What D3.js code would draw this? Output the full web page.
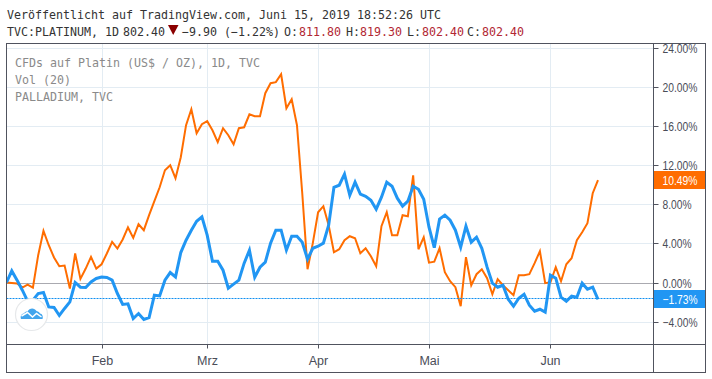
<!DOCTYPE html>
<html><head><meta charset="utf-8">
<script src="https://cdn.jsdelivr.net/npm/d3@7"></script>
<style>html,body{margin:0;padding:0;background:#fff}svg{display:block}
.mono{font-family:"DejaVu Sans Mono",monospace;font-size:11.63px}
.ax{font-family:"Liberation Sans",Arial,sans-serif;font-size:12.5px;fill:#4a4d58}</style>
</head><body><svg id="c" width="712" height="379"></svg>
<script>
const platinum=[0,-0.04,-0.10,-0.52,-0.21,-0.52,2.80,5.29,3.82,2.56,1.67,1.74,-0.62,2.97,0.37,1.43,2.62,1.43,1.87,2.97,4.16,3.48,4.41,5.64,4.57,5.97,5.36,6.90,8.33,9.76,11.51,12.02,10.69,12.84,16.12,17.76,15.30,16.22,16.53,15.60,14.38,15.81,15.09,14.17,15.81,15.91,17.24,17.04,17.04,19.40,20.42,20.53,21.34,17.86,18.78,16.12,9.15,1.36,4.03,7.20,7.82,5.87,3.10,3.41,4.33,4.74,4.54,3.00,3.51,2.69,1.67,5.77,7.20,4.85,4.85,6.90,6.79,10.99,3.41,4.64,2.03,2.13,3.51,1.06,0.13,-0.48,-2.43,2.59,-0.28,0.85,1.36,0.44,-1.20,0.34,-0.28,-0.79,-1.30,0.75,0.75,0.85,1.98,3.21,-0.07,0.03,1.57,0.13,1.87,2.49,4.33,5.15,6.08,9.15,10.49];
const palladium=[0,1.19,0.24,-0.79,-1.90,-1.81,-1.13,-1.02,-2.50,-2.56,-3.38,-2.66,-1.99,0,-0.48,-0.52,0.06,0.41,0.57,0.51,0.24,-1.13,-2.25,-2.19,-3.69,-3.18,-3.79,-3.59,-1.30,-1.37,0.24,1.02,0.57,3.07,4.33,5.36,6.28,6.72,4.85,2.18,2.18,1.26,-0.58,-0.17,0.24,1.98,3.31,0.54,1.57,2.08,4.03,5.36,5.36,3.31,4.74,4.74,4.13,2.39,3.51,3.72,4.03,5.87,9.76,9.97,11.10,8.94,10.28,9.05,8.84,8.43,7.51,8.74,10.28,9.87,8.64,7.82,8.33,9.87,9.56,8.53,5.67,3.57,6.49,6.90,6.38,5.36,3.62,5.77,4.13,4.64,3.51,1.57,-0.07,-0.48,-0.28,-1.71,-2.43,-1.61,-1.20,-2.33,-2.94,-2.74,-3.04,0.75,0.44,-1.51,-1.92,-1.40,-1.51,-0.07,-0.69,-0.48,-1.73];
const monthLabels=["Feb","Mrz","Apr","Mai","Jun"];
const monthIndex=[18,38,59,80,103];
const pctTicks=[24,20,16,12,8,4,0,-4];
const headerLine="Veröffentlicht auf TradingView.com, Juni 15, 2019 18:52:26 UTC";
const legendLines=["CFDs auf Platin (US$ / OZ), 1D, TVC","Vol (20)","PALLADIUM, TVC"];
const lastPlatinum=10.49,lastPalladium=-1.73;

const svg=d3.select("#c");
const L=6.5,R=653.5,T=43.5,B=344.5,OR=705.5,OB=372.5;
const x=d3.scaleLinear().domain([0,112]).range([6.5,598]);
const y=d3.scaleLinear().domain([0,24]).range([282.5,48.3]);
const fmt=v=>(v<0?"\u2212":"")+Math.abs(v).toFixed(2)+"%";

svg.append("defs").append("clipPath").attr("id","pl").append("rect").attr("x",L).attr("y",T).attr("width",R-L).attr("height",B-T);
svg.append("defs").append("clipPath").attr("id","ra").append("rect").attr("x",R).attr("y",T+.5).attr("width",OR-R).attr("height",B-T);

const grid=svg.append("g").attr("stroke","#e3ecf3").attr("stroke-width",1);
pctTicks.forEach(t=>{const p=Math.round(y(t))+.5;if(t!==0)grid.append("line").attr("x1",L).attr("x2",R).attr("y1",p).attr("y2",p);});
monthIndex.forEach(i=>{const p=Math.round(x(i))+.5;grid.append("line").attr("x1",p).attr("x2",p).attr("y1",T).attr("y2",B);});

svg.append("line").attr("x1",L).attr("x2",R).attr("y1",Math.round(y(0))+.5).attr("y2",Math.round(y(0))+.5).attr("stroke","#aaaab0");

const plot=svg.append("g").attr("clip-path","url(#pl)");
const line=d3.line().x((d,i)=>x(i)).y(d=>y(d));
plot.append("path").attr("d",line(platinum)).attr("fill","none").attr("stroke","#ff6d00").attr("stroke-width",2).attr("stroke-linejoin","miter");
plot.append("path").attr("d",line(palladium)).attr("fill","none").attr("stroke","#2196f3").attr("stroke-width",3).attr("stroke-linejoin","miter");
const dy=Math.round(y(lastPalladium))-.5;
plot.append("line").attr("x1",L).attr("x2",R).attr("y1",dy).attr("y2",dy).attr("stroke","#0f8ff0").attr("stroke-width",1).attr("stroke-dasharray","2 1");

// logo badge
const logo=svg.append("g").attr("transform","translate(31.5,314.5)");
logo.append("circle").attr("r",16).attr("fill","#fff").attr("stroke","#e6e8ea").attr("stroke-width",1.2);
logo.append("path").attr("d","M-10.5,4.5 C-11.5,1.5 -10,-1 -7.5,-1 C-6.5,-3 -5,-3 -4,-3 C-2,-7 3,-7 5,-3.5 C7,-3 8,-2 8.5,-1 C10.5,-1 12,2 11,4.5 L-10.5,4.5Z").attr("fill","#42a5ed");
logo.append("path").attr("d","M-10,1.5 L-4,-2 L1,2.5 L5,-1 L10,2.5").attr("fill","none").attr("stroke","#fff").attr("stroke-width",1.5);

// frame
const fr=svg.append("g").attr("stroke","#50535e").attr("stroke-width",1).attr("fill","none");
fr.append("rect").attr("x",L).attr("y",T).attr("width",OR-L).attr("height",OB-T);
fr.append("line").attr("x1",L).attr("x2",OR).attr("y1",B).attr("y2",B);
fr.append("line").attr("x1",R).attr("x2",R).attr("y1",T).attr("y2",OB);

// x axis
monthIndex.forEach((i,k)=>{const p=Math.round(x(i))+.5;
 svg.append("line").attr("x1",p).attr("x2",p).attr("y1",B).attr("y2",B+4).attr("stroke","#50535e");
 svg.append("text").attr("class","ax").attr("x",p).attr("y",364.5).attr("text-anchor","middle").text(monthLabels[k]);});

// y axis
const ra=svg.append("g").attr("clip-path","url(#ra)");
pctTicks.forEach(t=>{const p=Math.round(y(t))+.5;
 ra.append("line").attr("x1",R).attr("x2",R+5).attr("y1",p).attr("y2",p).attr("stroke","#50535e");
 ra.append("text").attr("class","ax").attr("x",662.5).attr("y",p+4.5).attr("textLength",t<0?35:(Math.abs(t)>=10?35:29)).attr("lengthAdjust","spacingAndGlyphs").text(fmt(t));});
[[lastPlatinum,"#ff6d00"],[lastPalladium,"#2196f3"]].forEach(([v,c])=>{const p=y(v);
 svg.append("rect").attr("x",R+.5).attr("y",Math.round(p)-9).attr("width",OR-R-1).attr("height",18).attr("fill",c);
 svg.append("text").attr("class","ax").style("fill","#fff").attr("x",662.5).attr("y",Math.round(p)+4.5).attr("textLength",35).attr("lengthAdjust","spacingAndGlyphs").text(fmt(v));});

// header
const hdr=(s,xp,yp,c)=>svg.append("text").attr("class","mono").attr("x",xp).attr("y",yp).attr("fill",c).text(s);
hdr(headerLine,7,19,"#333");
hdr("TVC:PLATINUM, 1D",7,36,"#333");
hdr("802.40",123,36,"#333");
svg.append("path").attr("d","M168,25 L178.5,25 L173.2,35Z").attr("fill","#8b0000");
hdr("\u22129.90 (\u22121.22%)",182,36,"#333");
[["O:",284,"811.80",299],["H:",346,"819.30",360],["L:",407,"802.40",422],["C:",467,"802.40",482]].forEach(d=>{
 hdr(d[0],d[1],36,"#333");hdr(d[2],d[3],36,"#b22833");});
legendLines.forEach((s,i)=>hdr(s,15,67+i*17,"#8a8a8a"));
</script></body></html>
